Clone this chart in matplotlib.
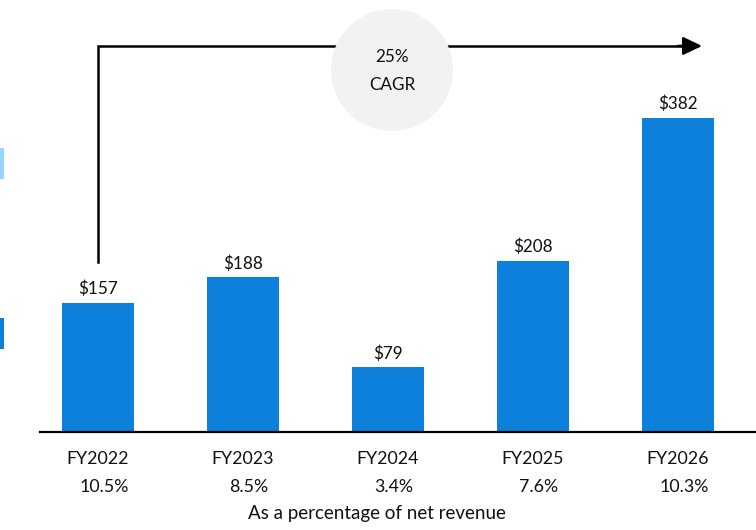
import matplotlib
matplotlib.use("Agg")
import matplotlib.pyplot as plt
from matplotlib.patches import Circle, Rectangle

categories = ["FY2022", "FY2023", "FY2024", "FY2025", "FY2026"]
values = [157, 188, 79, 208, 382]
value_labels = ["$157", "$188", "$79", "$208", "$382"]
pct_labels = ["10.5%", "8.5%", "3.4%", "7.6%", "10.3%"]
cagr_text = "25%\nCAGR"
subtitle = "As a percentage of net revenue"

plt.rcParams['font.family'] = ['Lato', 'DejaVu Sans']

W, H = 756, 530
fig = plt.figure(figsize=(W / 100, H / 100), dpi=100)

BAR = "#0D80DC"
TXT = "#111111"
# main axes: px 40..756 horizontally, baseline at y=432 px
ax = fig.add_axes([40 / W, (H - 432) / H, 716 / W, 432 / H])
ax.set_xlim(-0.4, 4.538)
ax.set_ylim(0, 525.5)
x = list(range(len(categories)))
ax.bar(x, values, width=0.5, color=BAR, zorder=2)
for xi, v, lab in zip(x, values, value_labels):
    ax.annotate(lab, (xi, v), xytext=(0, 4), textcoords="offset points",
                ha="center", va="bottom", fontsize=12.3, color=TXT)
for s in ["top", "right", "left"]:
    ax.spines[s].set_visible(False)
ax.spines["bottom"].set_linewidth(1.6)
ax.spines["bottom"].set_color("black")
ax.set_yticks([])
ax.set_xticks(x)
ax.set_xticklabels(categories, fontsize=12.8, color=TXT)
ax.tick_params(axis="x", length=0, pad=14)
for xi, p in zip(x, pct_labels):
    ax.annotate(p, (xi, 0), xytext=(6, -55.5), textcoords="offset pixels",
                ha="center", va="center", fontsize=12.8, color=TXT,
                annotation_clip=False)
ax.patch.set_alpha(0)

# CAGR arrow (data coords)
y_top = 469.6
x_end = 4.166
ax.plot([0, 0, 4.1], [207, y_top, y_top], color="black", lw=1.8,
        zorder=1, clip_on=False, solid_joinstyle="miter")
ax.annotate("", xy=(x_end, y_top), xytext=(4.0, y_top),
            arrowprops=dict(arrowstyle="-|>,head_length=1.15,head_width=0.55",
                            color="black", lw=1.8, shrinkA=0, shrinkB=0),
            annotation_clip=False)

# overlay in pixel coords
ov = fig.add_axes([0, 0, 1, 1])
ov.set_xlim(0, W)
ov.set_ylim(H, 0)
ov.axis("off")
ov.patch.set_alpha(0)
ov.add_patch(Circle((392, 70), 61, facecolor="#F2F2F2", edgecolor="none", zorder=3))
ov.text(392, 71, cagr_text, ha="center", va="center", fontsize=12.3,
        linespacing=1.95, color=TXT, zorder=4)
ov.add_patch(Rectangle((0, 148), 4, 31, facecolor="#99D3FF", edgecolor="none"))
ov.add_patch(Rectangle((0, 318), 4, 31, facecolor="#0D80DC", edgecolor="none"))
ov.text(377, 513, subtitle, ha="center", va="center", fontsize=13.5, color=TXT)

fig.savefig("out.png", dpi=100)
